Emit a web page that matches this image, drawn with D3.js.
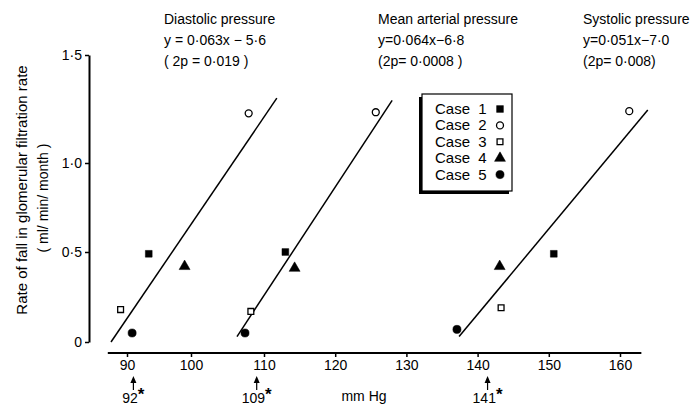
<!DOCTYPE html>
<html>
<head>
<meta charset="utf-8">
<script src="https://cdn.jsdelivr.net/npm/d3@7"></script>
<style>
  body { margin: 0; background: #fff; }
  svg { display: block; font-family: "Liberation Sans", Arial, sans-serif; }
  .axis path, .axis line { stroke: #000; }
  .axis text { font-size: 14px; fill: #000; }
</style>
</head>
<body>
<div id="chart"></div>
<script>
// values
var caseNames = ["Case 1", "Case 2", "Case 3", "Case 4", "Case 5"];

var diastolicX = [93.4, 107.9, 89.0, 99.0, 90.8];
var diastolicY = [0.49, 1.23, 0.18, 0.42, 0.05];
var meanX = [113.0, 125.7, 108.2, 114.3, 107.4];
var meanY = [0.50, 1.235, 0.17, 0.41, 0.05];
var systolicX = [150.7, 161.3, 143.3, 143.1, 137.1];
var systolicY = [0.49, 1.24, 0.19, 0.42, 0.07];

// regression line end points
var lineX = [[87.5, 111.8], [106.3, 128.0], [137.4, 163.9]];
var lineY = [[0.0, 1.30], [0.03, 1.29], [0.03, 1.245]];

var panelTitles = ["Diastolic pressure", "Mean arterial pressure", "Systolic pressure"];
var equations = ["y = 0·063x − 5·6", "y=0·064x−6·8", "y=0·051x−7·0"];
var pValues = ["( 2p = 0·019 )", "(2p= 0·0008 )", "(2p= 0·008)"];

var xTicks = [90, 100, 110, 120, 130, 140, 150, 160];
var yTicks = [0, 0.5, 1.0, 1.5];
var yTickLabels = ["0", "0·5", "1·0", "1·5"];

var arrowAt = [91, 109, 141.4];
var arrowLabels = ["92", "109", "141"];

var w = 691, h = 405;

var svg = d3.select("#chart").append("svg")
    .attr("width", w)
    .attr("height", h);

svg.append("rect").attr("width", w).attr("height", h).attr("fill", "#fff");

// the hand drawn axes are not quite even, so piecewise scales
var x = d3.scaleLinear()
    .domain([90, 100, 110, 160])
    .range([127, 191, 264, 620]);

var y = d3.scaleLinear()
    .domain([0, 0.5, 1.0, 1.5])
    .range([342, 252, 163, 55]);

// x axis
var xAxisG = svg.append("g")
    .attr("class", "axis")
    .attr("transform", "translate(0,353)")
    .call(d3.axisBottom(x).tickValues(xTicks).tickSize(4).tickSizeOuter(0).tickPadding(3).tickFormat(d3.format("d")));
xAxisG.select(".domain").remove();
xAxisG.append("line")
    .attr("x1", x(87)).attr("x2", x(163))
    .attr("stroke", "#000").attr("stroke-width", 2);
xAxisG.selectAll(".tick line").attr("stroke-width", 1.5);

// y axis
var yAxisG = svg.append("g")
    .attr("class", "axis")
    .attr("transform", "translate(89,0)")
    .call(d3.axisLeft(y).tickValues(yTicks).tickSize(4).tickSizeOuter(0).tickPadding(3)
        .tickFormat(function(d, i) { return yTickLabels[i]; }));
yAxisG.select(".domain").attr("stroke-width", 2);
yAxisG.selectAll(".tick line").attr("stroke-width", 1.5);

// y title
svg.append("text")
    .attr("transform", "translate(27,190) rotate(-90)")
    .attr("text-anchor", "middle")
    .style("font-size", "15px")
    .text("Rate of fall in glomerular  filtration rate");
svg.append("text")
    .attr("transform", "translate(48,198) rotate(-90)")
    .attr("text-anchor", "middle")
    .style("font-size", "14px")
    .text("( ml/ min/ month )");

// x title and threshold arrows
svg.append("text")
    .attr("x", 364).attr("y", 401)
    .attr("text-anchor", "middle")
    .style("font-size", "14px")
    .text("mm Hg");

var arrows = svg.append("g").selectAll("g")
    .data(arrowAt)
    .enter().append("g")
    .attr("transform", function(d) { return "translate(" + x(d) + ",0)"; });
arrows.append("line")
    .attr("y1", 390).attr("y2", 380)
    .attr("stroke", "#000").attr("stroke-width", 1.2);
arrows.append("path")
    .attr("d", "M0,376L-3,383L3,383Z")
    .attr("fill", "#000");
var arrowText = arrows.append("text")
    .attr("y", 403)
    .attr("text-anchor", "middle")
    .style("font-size", "14px");
arrowText.append("tspan").text(function(d, i) { return arrowLabels[i]; });
arrowText.append("tspan").attr("dy", -3).style("font-size", "17px").style("font-weight", "bold").text("*");

// panel headings
var headX = [164, 378, 583];
var heads = svg.append("g").selectAll("g")
    .data(panelTitles)
    .enter().append("g")
    .attr("transform", function(d, i) { return "translate(" + headX[i] + ",0)"; })
    .style("font-size", "14px");
heads.append("text").attr("y", 24).text(function(d) { return d; });
heads.append("text").attr("y", 45).text(function(d, i) { return equations[i]; });
heads.append("text").attr("y", 66).text(function(d, i) { return pValues[i]; });

// regression lines
svg.append("g").selectAll("line")
    .data(lineX)
    .enter().append("line")
    .attr("x1", function(d) { return x(d[0]); })
    .attr("x2", function(d) { return x(d[1]); })
    .attr("y1", function(d, i) { return y(lineY[i][0]); })
    .attr("y2", function(d, i) { return y(lineY[i][1]); })
    .attr("stroke", "#000")
    .attr("stroke-width", 1.5);

// markers per case
var markers = [
    { type: d3.symbolSquare, size: 46, fill: "#000" },
    { type: d3.symbolCircle, size: 38, fill: "#fff" },
    { type: d3.symbolSquare, size: 34, fill: "#fff" },
    { type: d3.symbolTriangle, size: 52, fill: "#000" },
    { type: d3.symbolCircle, size: 52, fill: "#000" }
];

function drawMarker(sel, i) {
    var m = markers[i];
    sel.append("path")
        .attr("d", d3.symbol().type(m.type).size(m.size))
        .attr("fill", m.fill)
        .attr("stroke", "#000")
        .attr("stroke-width", m.fill === "#fff" ? 1.3 : 0.5);
}

[[diastolicX, diastolicY], [meanX, meanY], [systolicX, systolicY]].forEach(function(s) {
    var g = svg.append("g");
    caseNames.forEach(function(c, i) {
        var p = g.append("g")
            .attr("transform", "translate(" + x(s[0][i]) + "," + y(s[1][i]) + ")");
        drawMarker(p, i);
    });
});

// legend
var lg = svg.append("g").attr("transform", "translate(422,94)");
lg.append("rect")
    .attr("x", -3).attr("y", 3)
    .attr("width", 90).attr("height", 97)
    .attr("fill", "#000");
lg.append("rect")
    .attr("width", 90).attr("height", 97)
    .attr("fill", "#fff")
    .attr("stroke", "#000")
    .attr("stroke-width", 1.2);
caseNames.forEach(function(c, i) {
    var row = lg.append("g").attr("transform", "translate(0," + (15 + i * 16.4) + ")");
    row.append("text")
        .attr("x", 13).attr("y", 5)
        .style("font-size", "15px")
        .style("word-spacing", "4px")
        .text(c);
    var s = row.append("g").attr("transform", "translate(78,0)");
    drawMarker(s, i);
});
</script>
</body>
</html>
